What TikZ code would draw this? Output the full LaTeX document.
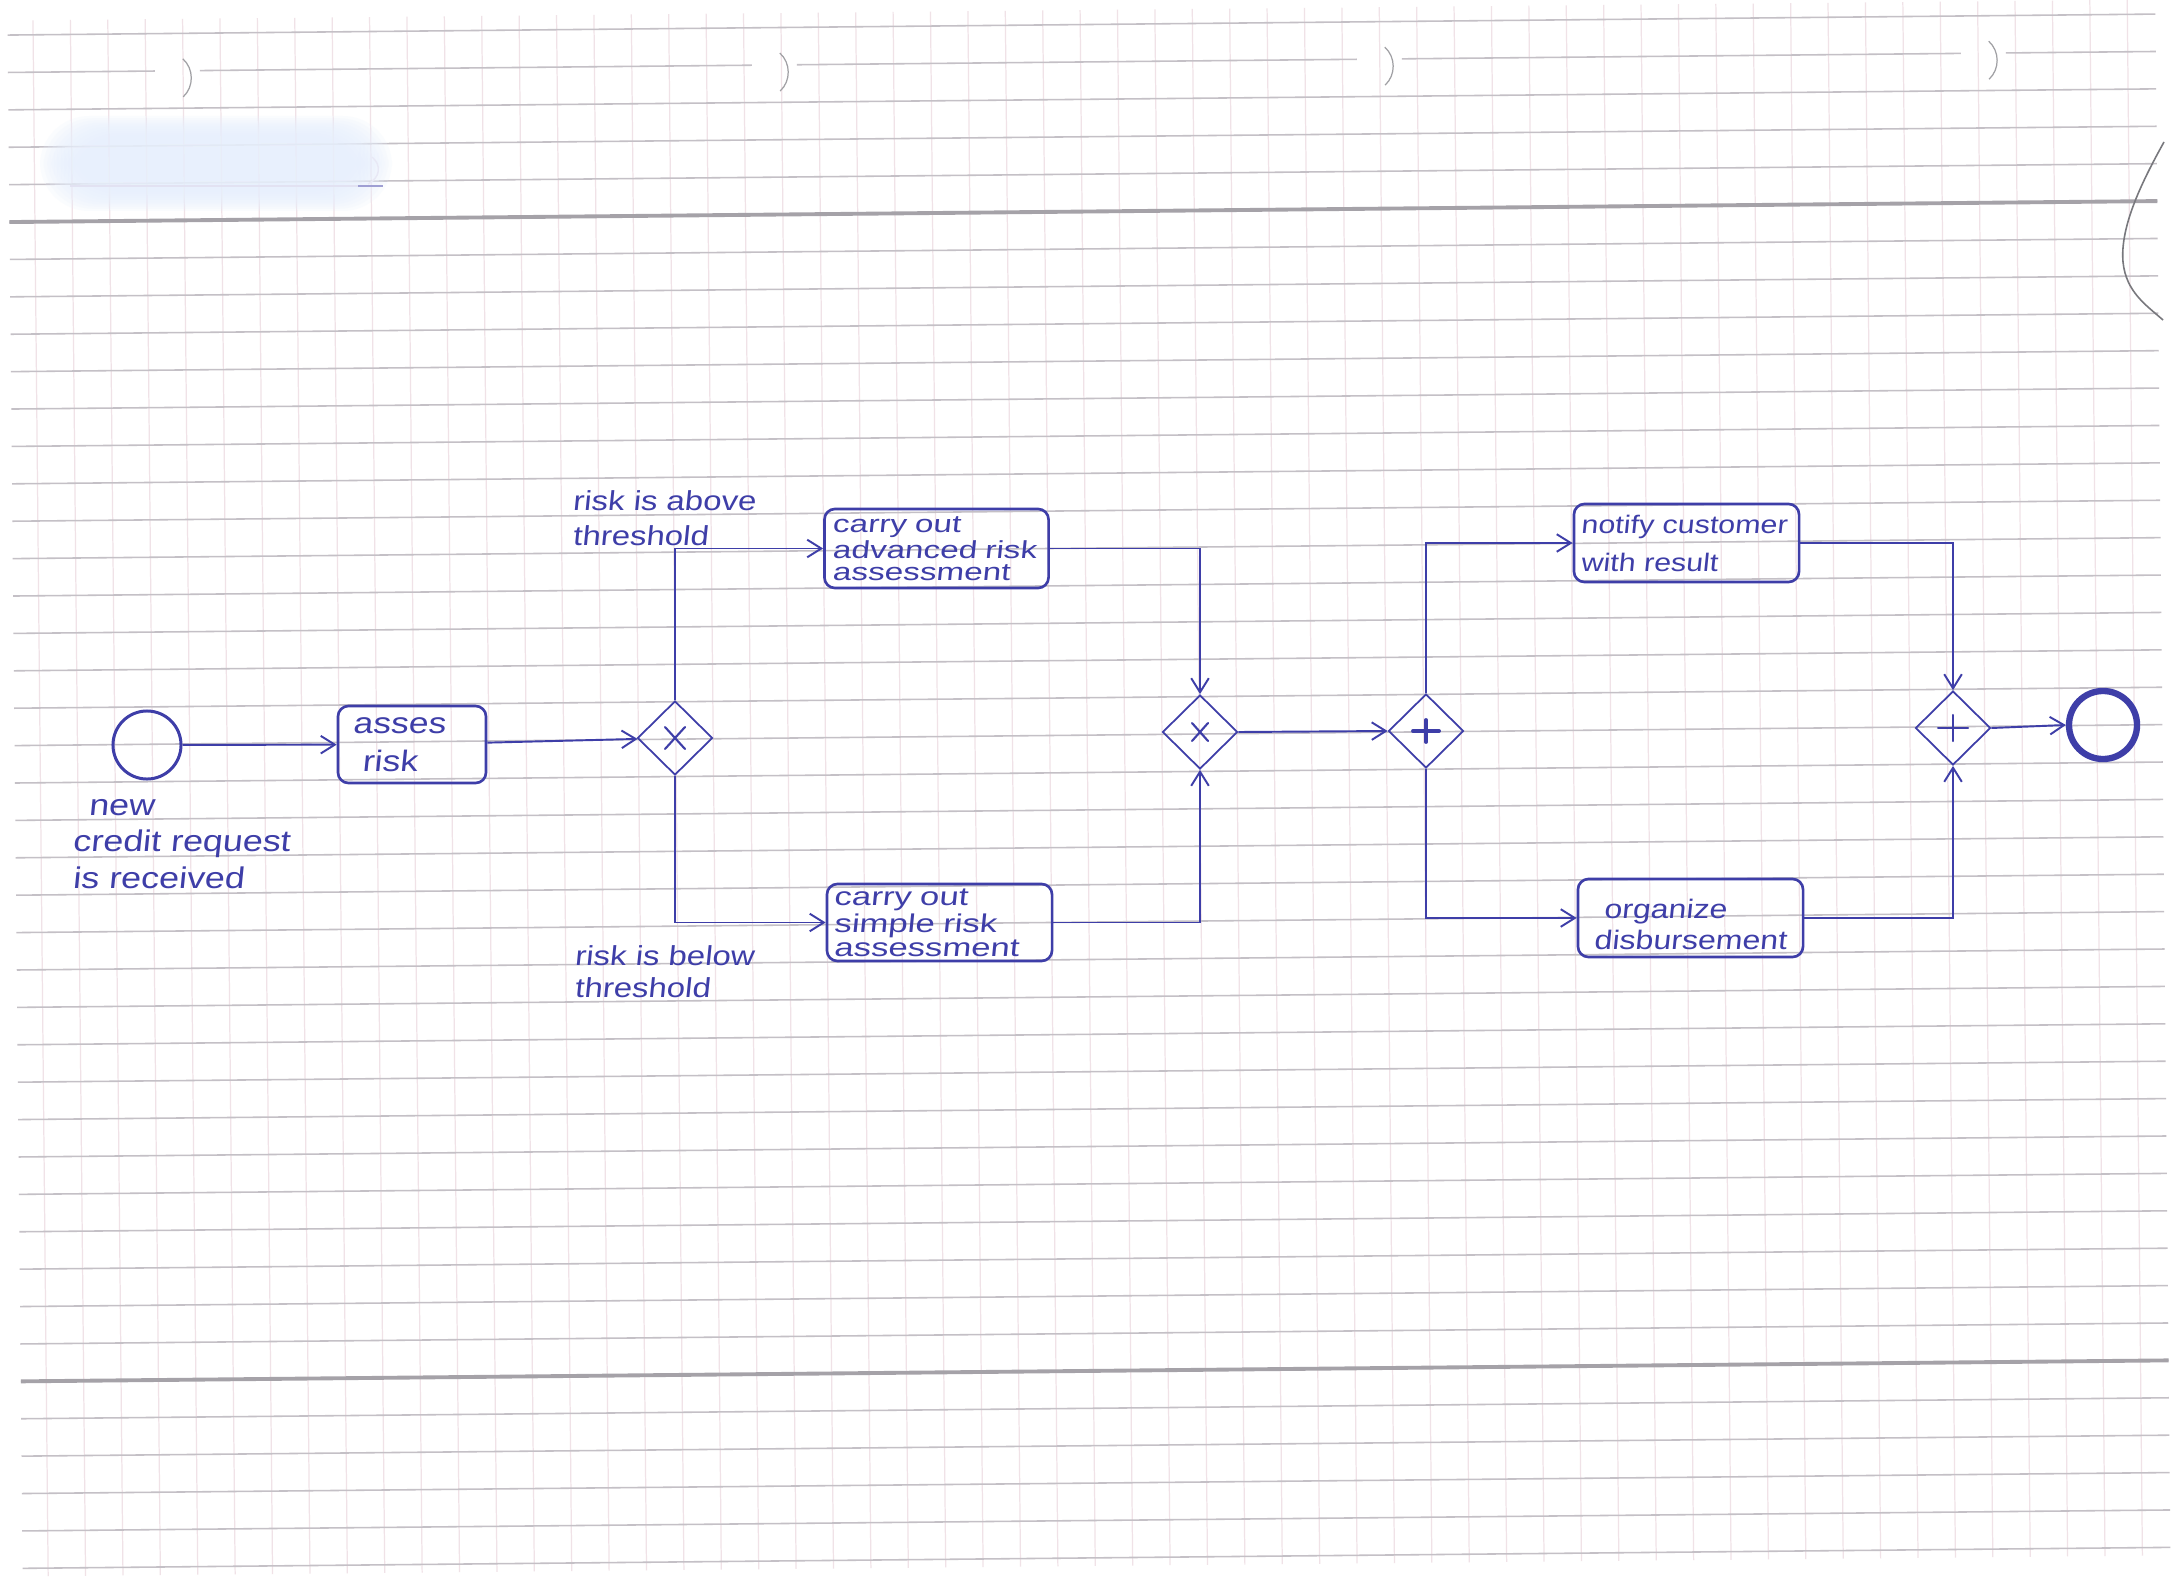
\documentclass[tikz,border=0pt]{standalone}
\usepackage{fontspec}
\usetikzlibrary{shapes.geometric,arrows.meta}
\newfontfamily\hand[FakeSlant=0.1,FakeStretch=1.2]{Liberation Sans}
\newfontfamily\handw[FakeSlant=0.1,FakeStretch=1.35]{Liberation Sans}
\setlength{\lineskiplimit}{-20pt}
\definecolor{ink}{RGB}{62,62,168}
\definecolor{hrule}{RGB}{196,192,198}
\definecolor{hrulethick}{RGB}{165,162,168}
\definecolor{vrule}{RGB}{240,226,231}
\definecolor{smudge}{RGB}{232,240,253}
\definecolor{pencil}{RGB}{120,120,125}

\tikzset{
  flow/.style={draw=ink, line width=0.55pt, -{Straight Barb[length=4pt,width=5pt]}},
  task/.style={draw=ink, line width=0.75pt, rounded corners=3pt, align=left,
               inner ysep=0pt, text=ink},
  gate/.style={draw=ink, diamond, line width=0.5pt, inner sep=0pt,
               minimum width=0.75cm, minimum height=0.74cm},
  gatesign/.style={draw=ink, line width=0.6pt, line cap=round},
  event/.style={draw=ink, circle, inner sep=0pt, minimum size=0.68cm},
  note/.style={text=ink, align=left, inner sep=0pt, anchor=west},
  hline/.style={draw=hrule, line width=0.45pt},
  hthick/.style={draw=hrulethick, line width=1.1pt},
  vline/.style={draw=vrule, line width=0.35pt},
  holearc/.style={draw=pencil!70, line width=0.35pt},
}

\begin{document}
\begin{tikzpicture}[x=0.01cm, y=-0.01cm]
\useasboundingbox (0,0) rectangle (2179,1585);
\fill[white] (0,0) rectangle (2179,1585);

% squared paper, slightly skewed on the scanner
\begin{scope}[rotate around={0.56:(1090,790)}]
  \foreach \k in {0,...,56}
    \draw[vline] ({40.5+37.4*\k},10) -- ({40.5+37.4*\k},1566);
  \foreach \k in {0,...,41}{
    \ifnum\k=1\relax\else
      \draw[hline] (15,{24.5+37.4*\k}) -- (2163,{24.5+37.4*\k});
    \fi
  }
  \draw[hline] (15,61.9) -- (162,61.9) (207,61.9) -- (759,61.9)
               (804,61.9) -- (1364,61.9) (1409,61.9) -- (1968,61.9)
               (2013,61.9) -- (2163,61.9);
  \draw[hthick] (15,211.5) -- (2163,211.5);
  \draw[hthick] (15,1370.9) -- (2163,1370.9);
  % punch hole edges
  \foreach \xa in {195,792,1397,2001}
    \draw[holearc] ({\xa-5},50) .. controls ({\xa+6},60) and ({\xa+6},78) .. ({\xa-5},88);
\end{scope}

% torn edge on the right
\draw[pencil, line width=0.45pt] (2164,142) .. controls (2140,185) and (2120,228) .. (2123,262)
  .. controls (2126,292) and (2146,305) .. (2163,320);

% blurred patch at the top left
\foreach \i in {0,...,9}
  \fill[smudge, fill opacity=0.2, rounded corners=14pt]
    ({40+3.5*\i},{116+2.2*\i}) rectangle ({392-3.5*\i},{211-2.2*\i});
\draw[ink!15, line width=0.4pt] (70,186) -- (358,186);
\draw[ink!50, line width=0.5pt] (358,186) -- (383,186);
\draw[ink!12, line width=0.4pt] (372,157) .. controls (382,165) and (380,178) .. (368,184);

% events
\node[event, line width=0.85pt] (start) at (147,745) {};
\node[event, line width=1.8pt] (end) at (2103,725) {};

% tasks
\node[task, minimum height=0.77cm, inner xsep=0.15cm, text width=1.18cm,
      font={\hand\fontsize{8.4}{10.8}\selectfont}] (asses) at (412,744.5)
      {\mbox{asses}\\\hspace*{2.6pt}\mbox{risk}};
\node[task, minimum height=0.79cm, inner xsep=0.08cm, text width=2.08cm,
      font={\handw\fontsize{7}{6.2}\selectfont}] (adv) at (936.5,548.5)
      {\mbox{carry out}\\\mbox{advanced risk}\\\mbox{assessment}};
\node[task, minimum height=0.77cm, inner xsep=0.07cm, text width=2.11cm,
      font={\handw\fontsize{7.3}{6.8}\selectfont}] (simple) at (939.5,922.5)
      {\mbox{carry out}\\\mbox{simple risk}\\\mbox{assessment}};
\node[task, minimum height=0.78cm, inner xsep=0.07cm, text width=2.11cm,
      font={\hand\fontsize{7.2}{10.8}\selectfont}] (notify) at (1686.5,543)
      {\mbox{notify customer}\\\mbox{with result}};
\node[task, minimum height=0.78cm, inner xsep=0.16cm, text width=1.93cm,
      font={\hand\fontsize{7.6}{8.8}\selectfont}] (organize) at (1690.5,918)
      {\rule{0pt}{9pt}\hspace*{2.8pt}\mbox{organize}\\\mbox{disbursement}};

% gateways
\node[gate] (g1) at (675,738) {};
\node[gate] (g2) at (1200,732) {};
\node[gate] (g3) at (1426,731) {};
\node[gate] (g4) at (1953,728) {};
\draw[gatesign] ([shift={(-10,-11)}]g1.center) -- ([shift={(10,11)}]g1.center)
                ([shift={(10,-11)}]g1.center) -- ([shift={(-10,11)}]g1.center);
\draw[gatesign] ([shift={(-8,-9)}]g2.center) -- ([shift={(8,9)}]g2.center)
                ([shift={(8,-9)}]g2.center) -- ([shift={(-8,9)}]g2.center);
\draw[gatesign, line width=1.1pt] ([shift={(-13,0)}]g3.center) -- ([shift={(13,0)}]g3.center)
                ([shift={(0,-11)}]g3.center) -- ([shift={(0,11)}]g3.center);
\draw[gatesign] ([shift={(-15,0)}]g4.center) -- ([shift={(15,0)}]g4.center)
                ([shift={(0,-13)}]g4.center) -- ([shift={(0,13)}]g4.center);

% labels
\node[note, font={\hand\fontsize{8.5}{10.4}\selectfont}] (startlbl) at (72,844)
  {\hspace*{4.5pt}new\\credit request\\is received};
\node[note, font={\hand\fontsize{7.8}{10}\selectfont}] (abovelbl) at (572,518)
  {risk is above\\threshold};
\node[note, font={\hand\fontsize{7.8}{9.1}\selectfont}] (belowlbl) at (574,972)
  {risk is below\\threshold};

% sequence flows
\draw[flow] (start) -- (asses);
\draw[flow] (asses) -- (g1);
\draw[flow] (g1.north) |- (adv.west);
\draw[flow] (g1.south) |- (simple.west);
\draw[flow] (adv.east) -| (g2.north);
\draw[flow] (simple.east) -| (g2.south);
\draw[flow] (g2.east) -- (g3.west);
\draw[flow] (g3.north) |- (notify.west);
\draw[flow] (g3.south) |- (organize.west);
\draw[flow] (notify.east) -| (g4.north);
\draw[flow] (organize.east) -| (g4.south);
\draw[flow] (g4.east) -- (end.west);
\end{tikzpicture}
\end{document}
